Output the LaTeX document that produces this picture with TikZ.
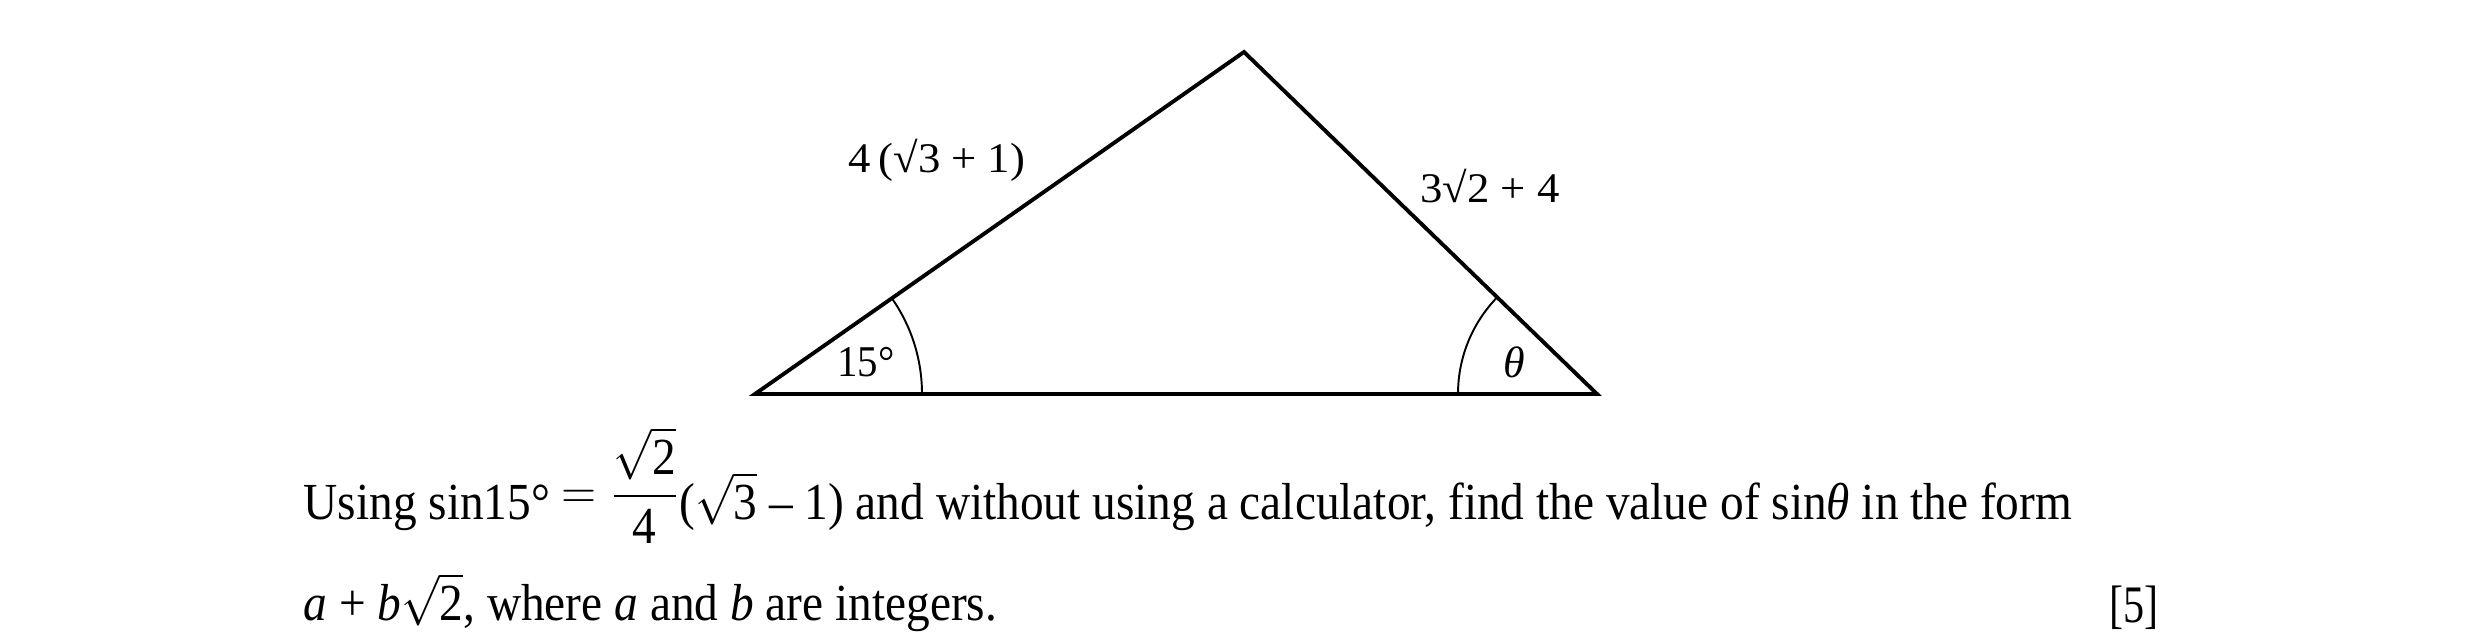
\documentclass[tikz,border=0pt]{standalone}
\usepackage{amsmath}
\usepackage{graphicx}
\usepackage{fontspec}
\setmainfont{Liberation Serif}
\newcommand{\dg}[1]{\mbox{#1}}
\begin{document}
\begin{tikzpicture}[x=0.1mm,y=-0.1mm,
  main/.style={inner sep=0pt,font=\fontsize{14.8}{17}\selectfont},
  sidelab/.style={inner sep=0pt,font=\fontsize{12}{14}\selectfont},
  anglab/.style={inner sep=0pt,font=\fontsize{12.5}{14}\selectfont},
  side/.style={line width=1.1pt,line join=miter},
  anglearc/.style={line width=0.55pt}]
\useasboundingbox (0,0) rectangle (2480,635);
\coordinate (A) at (755,394);
\coordinate (B) at (1244,52);
\coordinate (C) at (1597,394);
\begin{scope}
  \clip (A) -- (B) -- (C) -- cycle;
  \draw[anglearc] (A) circle[radius=167];
  \draw[anglearc] (C) circle[radius=139];
\end{scope}
\draw[side] (A) -- (B) -- (C) -- cycle;
\node[sidelab,anchor=base] (lab1) at (937,173) {\scalebox{1.06}[1]{4\,(√3 + 1)}};
\node[sidelab,anchor=base] (lab2) at (1490,203) {\scalebox{1.06}[1]{3√2 + 4}};
\node[anglab,anchor=base] (ang1) at (866,377) {\scalebox{0.93}[1]{15°}};
\node[anglab,anchor=base] (ang2) at (1514,378) {\textit{θ}};
\node[main,anchor=base west] (line1) at (303,519)
  {\scalebox{0.91}[1]{Using sin15° \raisebox{3pt}{$=\dfrac{\sqrt{\dg{2}}}{\dg{4}}$}($\sqrt{\dg{3}}$\ – 1) and without using a calculator, find the value of sin\textit{θ} in the form}};
\node[main,anchor=base west] (line2) at (303,620)
  {\scalebox{0.91}[1]{\textit{a} + \textit{b}$\sqrt{\dg{2}}$, where \textit{a} and \textit{b} are integers.}};
\node[inner sep=0pt,font=\fontsize{15}{17}\selectfont,anchor=base east] (mark) at (2159,622) {\scalebox{0.8}[1]{[5]}};
\end{tikzpicture}
\end{document}
